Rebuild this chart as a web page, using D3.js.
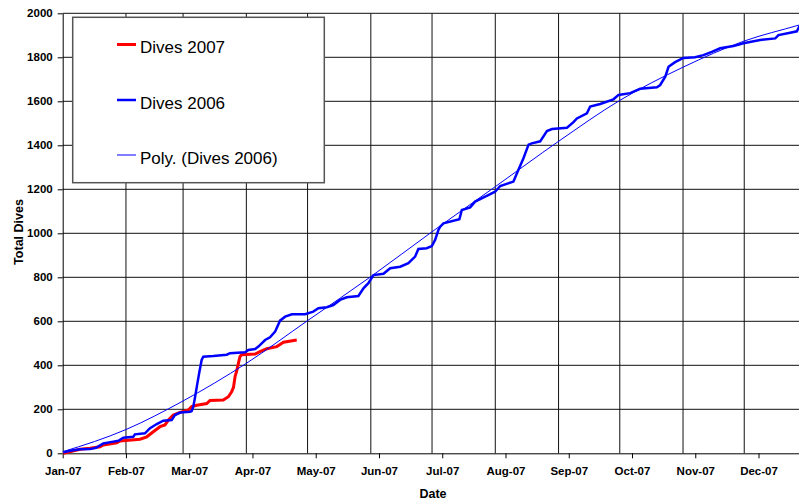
<!DOCTYPE html>
<html>
<head>
<meta charset="utf-8">
<script src="https://cdn.jsdelivr.net/npm/d3@7"></script>
<style>
  body { margin: 0; background: #fff; }
  svg { display: block; font-family: "Liberation Sans", Arial, sans-serif; }
</style>
</head>
<body>
<div id="chart"></div>
<script>
// day of year (0 = 1 Jan) and running total of dives
const days2007 = [0.3, 8.5, 13.4, 18.3, 19.9, 26.5, 28.1, 37.9, 41.2, 44.4, 47.7, 50.1, 51.8, 54.2, 57.5, 61.6,
  63.2, 65.7, 70.6, 72.2, 78.7, 81.2, 82.8, 83.7, 84.5, 85.3, 86.1, 86.9, 87.7, 94.3, 96.7, 100, 104.9, 106.5, 108.2, 114.7];
const dives2007 = [0, 18, 23, 30, 38, 48, 56, 64, 75, 98, 121, 129, 151, 174, 186, 197,
  212, 218, 226, 240, 242, 257, 280, 300, 350, 375, 409, 440, 448, 451, 462, 475, 485, 495, 505, 515];

const days2006 = [0.3, 3.6, 8.5, 13.4, 16.3, 19.9, 24.8, 27.3, 29.7, 34.6, 35.4, 40.3, 42.8, 46.1, 49.3, 53.4,
  55, 57.5, 62.4, 63.2, 64, 64.9, 66, 67, 68.1, 68.9, 73.8, 80.4, 82, 89.4, 91, 94.3, 95.9, 99.2, 101.6,
  104.1, 106.5, 109, 112.3, 118.8, 122.8, 125.3, 129.4, 132.6, 135.9, 139.2, 144.9, 147.4, 149.8, 152.3,
  157.2, 160.5, 165.4, 169.4, 172.7, 174.3, 178.4, 180.9, 182.5, 184.1, 185, 186.6, 194.4, 195.6, 199.7,
  202.1, 207.8, 211.9, 214.4, 220.9, 223.3, 225.8, 228.3, 229.9, 234, 237.3, 239.8, 247.1, 250.3, 252,
  256.9, 258.5, 263.4, 269.9, 272.4, 278.1, 283, 291.2, 292.8, 295.3, 296.9, 300.1, 304.2, 309.9, 314,
  318.1, 322.2, 328.7, 333.6, 341.8, 349.2, 350.8, 356.5, 359.8, 360.9, 363];
const dives2006 = [5, 12, 18, 19, 25, 45, 53, 57, 71, 75, 86, 91, 114, 133, 148, 151,
  174, 185, 189, 192, 212, 257, 318, 371, 424, 439, 442, 448, 455, 459, 470, 474, 485, 515, 527,
  553, 603, 621, 632, 632, 644, 659, 664, 674, 697, 709, 715, 750, 773, 810,
  816, 841, 848, 864, 894, 929, 932, 942, 970, 1015, 1030, 1045, 1064, 1106, 1118,
  1144, 1170, 1189, 1215, 1235, 1288, 1341, 1403, 1409, 1418, 1465, 1474, 1480, 1505, 1522,
  1545, 1576, 1588, 1609, 1629, 1637, 1657, 1664, 1674, 1712, 1757, 1778, 1797, 1800, 1810,
  1825, 1841, 1851, 1864, 1879, 1886, 1901, 1912, 1918, 1939, 1945];

// Poly. (Dives 2006) trend line, read at month starts
const polyDays = [0, 31, 59, 90, 120, 151, 181, 212, 243, 273, 304, 334, 361, 365];
const polyValues = [7, 108, 238, 409, 603, 803, 1007, 1212, 1418, 1604, 1755, 1874, 1947, 1958];

const tickDates = ["2007-01-01", "2007-02-01", "2007-03-04", "2007-04-04", "2007-05-05", "2007-06-05",
  "2007-07-06", "2007-08-06", "2007-09-06", "2007-10-07", "2007-11-07", "2007-12-08"];
const tickLabels = ["Jan-07", "Feb-07", "Mar-07", "Apr-07", "May-07", "Jun-07",
  "Jul-07", "Aug-07", "Sep-07", "Oct-07", "Nov-07", "Dec-07"];
const yTicks = [0, 200, 400, 600, 800, 1000, 1200, 1400, 1600, 1800, 2000];

const legendItems = [
  { label: "Dives 2007", color: "#ff0000", width: 3 },
  { label: "Dives 2006", color: "#0000ff", width: 2.5 },
  { label: "Poly. (Dives 2006)", color: "#0000ff", width: 1 }
];

const width = 799, height = 501;
const plot = { left: 62.7, right: 807.5, top: 13.3, bottom: 453.3 };

const parse = d3.utcParse("%Y-%m-%d");
const start = parse("2007-01-01");
const toDate = d => d3.utcMillisecond.offset(start, d * 864e5);

const x = d3.scaleUtc()
  .domain([start, parse("2008-01-01")])
  .range([plot.left, plot.right]);
const y = d3.scaleLinear()
  .domain([0, 2000])
  .range([plot.bottom, plot.top]);

const svg = d3.select("#chart").append("svg")
  .attr("width", width)
  .attr("height", height);

// grid lines
svg.append("g")
  .selectAll("line")
  .data(yTicks.slice(1))
  .join("line")
  .attr("x1", plot.left).attr("x2", plot.right)
  .attr("y1", d => y(d)).attr("y2", d => y(d))
  .attr("stroke", "#111").attr("stroke-width", 1);

svg.append("g")
  .selectAll("line")
  .data(d3.utcMonth.range(parse("2007-02-01"), parse("2008-01-02")))
  .join("line")
  .attr("x1", d => x(d)).attr("x2", d => x(d))
  .attr("y1", plot.top).attr("y2", plot.bottom)
  .attr("stroke", "#111").attr("stroke-width", 1);

// axes
const yAxis = svg.append("g")
  .attr("transform", `translate(${plot.left},0)`)
  .call(d3.axisLeft(y).tickValues(yTicks).tickFormat(d3.format("d"))
    .tickSize(5).tickSizeOuter(0).tickPadding(5));

const xAxis = svg.append("g")
  .attr("transform", `translate(0,${plot.bottom})`)
  .call(d3.axisBottom(x)
    .tickValues(tickDates.map(parse))
    .tickFormat((d, i) => tickLabels[i])
    .tickSize(5).tickSizeOuter(0).tickPadding(9));

[xAxis, yAxis].forEach(g => {
  g.selectAll("text")
    .attr("font-size", 11.5)
    .attr("font-weight", "bold")
    .attr("font-family", "Liberation Sans, Arial, sans-serif")
    .attr("fill", "#000");
  g.selectAll("line, path").attr("stroke", "#000");
});

svg.append("text")
  .attr("x", 433).attr("y", 498)
  .attr("text-anchor", "middle")
  .attr("font-size", 12.5).attr("font-weight", "bold")
  .text("Date");

svg.append("text")
  .attr("transform", "translate(23,232) rotate(-90)")
  .attr("text-anchor", "middle")
  .attr("font-size", 12.5).attr("font-weight", "bold")
  .text("Total Dives");

// legend
const legend = svg.append("g");
legend.append("rect")
  .attr("x", 72.7).attr("y", 17.3)
  .attr("width", 251.6).attr("height", 165.4)
  .attr("fill", "#fff").attr("stroke", "#555").attr("stroke-width", 1.5);

const rows = legend.selectAll("g.row")
  .data(legendItems)
  .join("g")
  .attr("class", "row")
  .attr("transform", (d, i) => `translate(0,${[44.5, 100, 155][i]})`);
rows.append("line")
  .attr("x1", 117).attr("x2", 136)
  .attr("stroke", d => d.color).attr("stroke-width", d => d.width);
rows.append("text")
  .attr("x", 140).attr("y", 8.6)
  .attr("font-size", 17)
  .text(d => d.label);

// series
const line = d3.line()
  .x(d => x(toDate(d[0])))
  .y(d => y(d[1]));

svg.append("path")
  .datum(d3.zip(days2007, dives2007))
  .attr("fill", "none").attr("stroke", "#ff0000").attr("stroke-width", 3)
  .attr("d", line);

svg.append("path")
  .datum(d3.zip(days2006, dives2006))
  .attr("fill", "none").attr("stroke", "#0000ff").attr("stroke-width", 2.5)
  .attr("d", line);

svg.append("path")
  .datum(d3.zip(polyDays, polyValues))
  .attr("fill", "none").attr("stroke", "#0000ff").attr("stroke-width", 1)
  .attr("d", line.curve(d3.curveMonotoneX));
</script>
</body>
</html>
